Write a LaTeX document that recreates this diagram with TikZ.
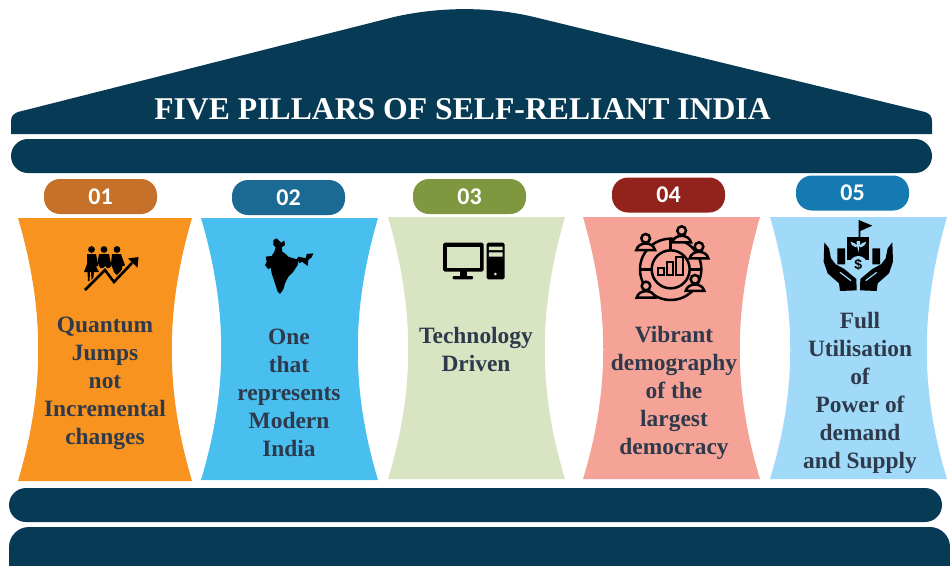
\documentclass[tikz,border=0pt]{standalone}
\usepackage{fontspec}
\setmainfont{Liberation Serif}
\newfontfamily\badgefont{Carlito}
\newfontfamily\iconfont{Liberation Sans}

\definecolor{navy}{HTML}{073A54}
\definecolor{labelgray}{HTML}{2E3A4B}
\definecolor{orangeP}{HTML}{F7931E}
\definecolor{blueP}{HTML}{49BFF0}
\definecolor{greenP}{HTML}{D9E4C3}
\definecolor{salmonP}{HTML}{F4A396}
\definecolor{skyP}{HTML}{A0DAF8}
\definecolor{orangeB}{HTML}{C67129}
\definecolor{blueB}{HTML}{1B6A94}
\definecolor{greenB}{HTML}{7F973F}
\definecolor{redB}{HTML}{91231C}
\definecolor{skyB}{HTML}{167AB2}

% cabeca e ombros de uma pessoa (icone 04)
\newcommand{\personicon}[2]{
  \draw[iconline, fill=salmonP] (#1-28,#2+35) .. controls (#1-22,#2+9) and (#1+22,#2+9) .. (#1+28,#2+35) -- cycle;
  \draw[iconline, fill=salmonP] (#1,#2) circle (13);
}

\begin{document}
\begin{tikzpicture}[x=1pt, y=-1pt,
    band/.style={fill=navy, rounded corners=17pt},
    badge/.style={rectangle, rounded corners=16pt, minimum width=113pt, minimum height=35pt, inner sep=0pt, text=white, font=\badgefont\bfseries\fontsize{24}{24}\selectfont},
    pillarlabel/.style={align=center, inner sep=0pt, text=labelgray, font=\bfseries\fontsize{23.4}{28}\selectfont},
    iconline/.style={draw=black, line width=2.5pt}]
    \useasboundingbox (0,0) rectangle (950,565);
    \clip (0,0) rectangle (950,565);

    % Telhado
    \fill[navy] (11,134) -- (11,122) .. controls (11,116) and (13,114) .. (18,112) -- (394,17)
        .. controls (440,6.5) and (490,6.5) .. (534,17) -- (925,112)
        .. controls (930,114) and (932,116) .. (932,122) -- (932,134) -- cycle;
    \node[text=white, inner sep=0pt, font=\bfseries\fontsize{31.7}{32}\selectfont] (title) at (462.5,109) {FIVE PILLARS OF SELF-RELIANT INDIA};

    % Faixas
    \fill[band] (11,139) rectangle (932,173);
    \fill[band] (9,488) rectangle (942,522);
    \fill[band, rounded corners=20pt] (9,527) rectangle (950,585);

    % Colunas
    \fill[orangeP] (18,218) .. controls (45,310) and (45,390) .. (18,481) -- (192,481) .. controls (165,390) and (165,310) .. (192,218) -- cycle;
    \fill[blueP] (201,218) .. controls (228,310) and (228,390) .. (201,480) -- (378,480) .. controls (351,390) and (351,310) .. (378,218) -- cycle;
    \fill[greenP] (388,217) .. controls (415,310) and (415,390) .. (388,479) -- (565,479) .. controls (538,390) and (538,310) .. (565,217) -- cycle;
    \fill[salmonP] (583,217) .. controls (610,310) and (610,390) .. (583,479) -- (760,479) .. controls (733,390) and (733,310) .. (760,217) -- cycle;
    \fill[skyP] (770,217) .. controls (797,310) and (797,390) .. (770,479) -- (947,479) .. controls (920,390) and (920,310) .. (947,217) -- cycle;

    % Numeros
    \node[badge, fill=orangeB] (b1) at (100.5,196.5) {01};
    \node[badge, fill=blueB] (b2) at (288.5,197.5) {02};
    \node[badge, fill=greenB] (b3) at (469.5,196.5) {03};
    \node[badge, fill=redB] (b4) at (668.5,195) {04};
    \node[badge, fill=skyB] (b5) at (852.5,193) {05};

    % Textos das colunas
    \node[pillarlabel] (t1) at (105,383) {Quantum\\Jumps\\not\\Incremental\\changes};
    \node[pillarlabel] (t2) at (289,393) {One\\that\\represents\\Modern\\India};
    \node[pillarlabel] (t3) at (476,349) {Technology\\Driven};
    \node[pillarlabel] (t4) at (674,393) {Vibrant\\demography\\of the\\largest\\democracy};
    \node[pillarlabel] (t5) at (860,393) {Full\\Utilisation\\of\\Power of\\demand\\and Supply};

    % Icone 01 - pessoas e seta
    \fill (91.5,249.5) circle (3.4) (104,249.5) circle (3.4) (117,249.5) circle (3.4);
    \fill (87,254) -- (96,254) -- (98.3,266) -- (96,266) -- (99,272) -- (94,272) -- (93,281) -- (91.5,281) -- (91,272) -- (90,272) -- (89.5,281) -- (88,281) -- (87.5,272) -- (84,272) -- (87,264) -- cycle;
    \fill (99,254) -- (109,254) -- (111.5,266) -- (109,268) -- (100,268) -- (97.5,262) -- cycle;
    \fill (112,254) -- (121,254) -- (125,265.5) -- (122.5,266) -- (121,273) -- (118,276) -- (114,272) -- (111,264) -- cycle;
    \draw[orangeP, line width=5pt] (85,290) -- (105,270) -- (114,282) -- (132,263);
    \draw[line width=2.6pt] (85,290) -- (105,270) -- (114,282) -- (132,263);
    \fill (138.5,257) -- (128,258.5) -- (137.5,267.5) -- cycle;

    % Icone 02 - mapa
    \begin{scope}[shift={(255,230)}, scale=0.3333]
      \fill (55,30) -- (65,25) -- (78,38) -- (88,32) -- (90,45) -- (80,52) -- (82,65) -- (92,72) -- (100,80) -- (125,88) -- (130,80) -- (140,82) -- (152,85) -- (155,72) -- (175,70) -- (170,82) -- (160,90) -- (158,108) -- (148,100) -- (140,95) -- (134,100) -- (130,92) -- (128,105) -- (115,125) -- (100,140) -- (90,160) -- (85,178) -- (75,192) -- (68,185) -- (60,160) -- (50,130) -- (47,112) -- (40,118) -- (30,105) -- (35,95) -- (32,80) -- (50,78) -- (58,65) -- (62,52) -- (55,45) -- cycle;
    \end{scope}

    % Icone 03 - computador
    \fill[rounded corners=1.5pt] (443.2,242.7) rectangle (483.5,271.7);
    \fill[greenP] (447.4,246.7) rectangle (480,267.7);
    \fill (459.6,271) rectangle (466.7,277);
    \fill[rounded corners=1pt] (452.6,276) rectangle (473,279.3);
    \fill[rounded corners=1.5pt] (486.7,242.7) rectangle (504.6,279.3);
    \fill[greenP] (488.8,246.7) rectangle (502.5,250) (488.8,252.3) rectangle (502.5,256.7);
    \fill[greenP] (495.4,274) circle (1.5);

    % Icone 04 - grafico e pessoas
    \begin{scope}[shift={(630,220)}, scale=0.3333]
      \draw[iconline] (122,148) circle (92);
      \draw[iconline] (122,148) circle (57);
      \draw[iconline] (122,56) -- (122,91) (30,148) -- (65,148) (179,148) -- (214,148);
      \draw[iconline, line width=2pt] (85,145) rectangle (103,165) (112,125) rectangle (130,165) (138,110) rectangle (158,165);
      \personicon{47}{55}
      \personicon{155}{32}
      \personicon{207}{80}
      \personicon{195}{178}
      \personicon{48}{198}
    \end{scope}

    % Icone 05 - maos, predio e moeda
    \begin{scope}[shift={(815,215)}, scale=0.3333]
      \fill (131,15) -- (172,32) -- (136,48) -- (136,70) -- (131,70) -- cycle;
      \fill (97,65) rectangle (163,135);
      \fill (67,100) rectangle (90,148) (172,100) rectangle (195,148);
      \fill[skyP] (130,150) circle (27);
      \fill[skyP] (130,112) -- (127,95) .. controls (122,85) and (115,82) .. (107,80) .. controls (108,90) and (115,95) .. (125,97) -- (125,78) -- (135,78) -- (135,97) .. controls (145,95) and (152,90) .. (153,80) .. controls (145,82) and (138,85) .. (133,95) -- cycle;
      \fill (28,82) -- (42,100) -- (48,130) -- (62,148) -- (88,162) -- (124,192) -- (125,226) -- (75,228) -- (72,205) -- (38,175) -- (26,140) -- cycle;
      \fill (232,82) -- (218,100) -- (212,130) -- (198,148) -- (172,162) -- (136,192) -- (135,226) -- (185,228) -- (188,205) -- (222,175) -- (234,140) -- cycle;
      \draw[skyP, line width=1.2pt] (75,172) -- (108,197) (185,172) -- (152,197);
      \node[inner sep=0pt, font=\iconfont\bfseries\fontsize{14}{14}\selectfont] (coin) at (130,150) {\$};
    \end{scope}
\end{tikzpicture}
\end{document}
